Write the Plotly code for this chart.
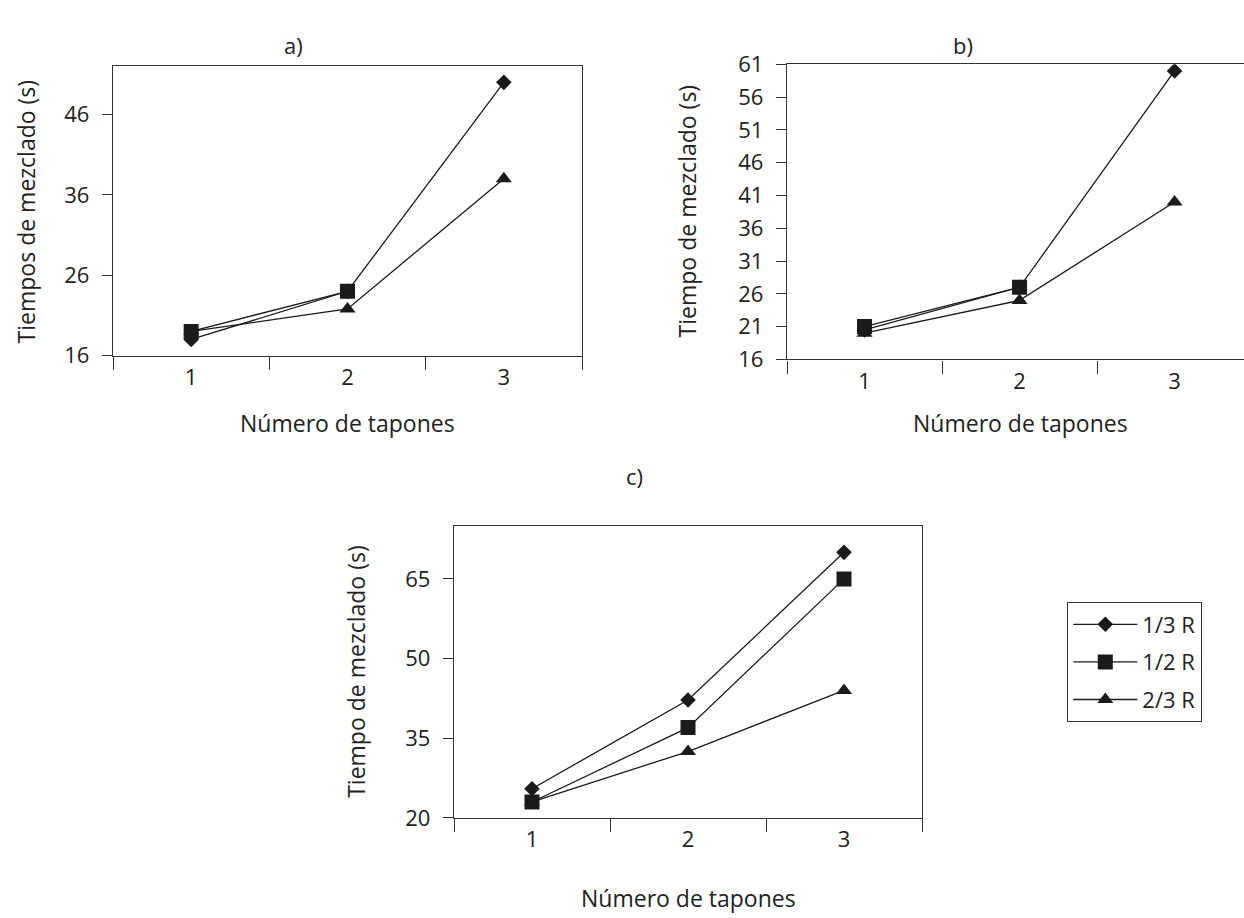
import plotly.graph_objects as go

# ---- data ----
categories = ["1", "2", "3"]
series_names = ["1/3 R", "1/2 R", "2/3 R"]

a_13 = [18, 24, 50]
a_12 = [19, 24, None]
a_23 = [19, 21.8, 38]

b_13 = [20.5, 27, 60]
b_12 = [21, 27, None]
b_23 = [20, 25, 40]

c_13 = [25.5, 42.2, 70]
c_12 = [23, 37, 65]
c_23 = [23, 32.5, 44]

a_yticks = [16, 26, 36, 46]
b_yticks = [16, 21, 26, 31, 36, 41, 46, 51, 56, 61]
c_yticks = [20, 35, 50, 65]

panel_titles = ["a)", "b)", "c)"]
x_title = "Número de tapones"
y_title_a = "Tiempos de mezclado (s)"
y_title_bc = "Tiempo de mezclado (s)"

W, H = 1244, 918
FONT = "Open Sans"
BLACK = "#1a1a1a"
TXT = "#222222"

def px_x(p):
    return p / W

def px_y(p):
    return 1 - p / H

symbols = {"1/3 R": ("diamond", 12), "1/2 R": ("square", 15), "2/3 R": ("triangle-up", 14)}
ranks = {"1/3 R": 1, "1/2 R": 2, "2/3 R": 3}

fig = go.Figure()

panels = [
    ("x", "y", {"1/3 R": a_13, "1/2 R": a_12, "2/3 R": a_23}, False),
    ("x2", "y2", {"1/3 R": b_13, "1/2 R": b_12, "2/3 R": b_23}, False),
    ("x3", "y3", {"1/3 R": c_13, "1/2 R": c_12, "2/3 R": c_23}, True),
]
draw_order = ["1/3 R", "2/3 R", "1/2 R"]
for xa, ya, data, show in panels:
    for name in draw_order:
        sym, size = symbols[name]
        fig.add_trace(go.Scatter(
            x=categories, y=data[name], name=name, xaxis=xa, yaxis=ya,
            mode="lines+markers", showlegend=show, legendrank=ranks[name],
            legendgroup=name,
            line=dict(color=BLACK, width=1.3),
            marker=dict(symbol=sym, size=size, color=BLACK, line=dict(width=0)),
            connectgaps=False,
        ))

axis_common = dict(showline=True, linecolor="#333333", linewidth=1.3, showgrid=False,
                   zeroline=False, ticks="outside", tickcolor="#333333", tickwidth=1.3,
                   tickfont=dict(family=FONT, size=22, color=TXT))

def xaxis(domain, rng, anchor, mirror=True):
    d = dict(axis_common)
    d.update(domain=domain, range=rng, anchor=anchor, type="category",
             tickson="boundaries", ticklen=13, mirror=mirror, ticklabelstandoff=2)
    return d

def yaxis(domain, rng, tickvals, anchor, mirror=True):
    d = dict(axis_common)
    d.update(domain=domain, range=rng, anchor=anchor, tickvals=tickvals,
             ticklen=10, mirror=mirror, ticklabelstandoff=8)
    return d

fig.update_layout(
    width=W, height=H, margin=dict(l=0, r=0, t=0, b=0),
    paper_bgcolor="white", plot_bgcolor="white",
    font=dict(family=FONT, size=22, color=TXT),
    xaxis=xaxis([px_x(113), px_x(582)], [-0.5, 2.5], "y"),
    yaxis=yaxis([px_y(351), px_y(52)], [16, 52], a_yticks, "x"),
    xaxis2=xaxis([px_x(787), 1.0], [-0.5, 2.448], "y2"),
    yaxis2=yaxis([px_y(355), px_y(50)], [16, 61], b_yticks, "x2", mirror=False),
    xaxis3=xaxis([px_x(454), px_x(922)], [-0.5, 2.5], "y3"),
    yaxis3=yaxis([px_y(829), px_y(527)], [20, 75], c_yticks, "x3"),
    legend=dict(x=px_x(1067), y=px_y(606), xanchor="left", yanchor="top",
                bordercolor="#333333", borderwidth=1.3, bgcolor="white",
                font=dict(family=FONT, size=22, color=TXT),
                itemwidth=64, tracegroupgap=6, traceorder="grouped"),
)

ann = []
def text(x, y, t, angle=0, size=23, yanchor="middle"):
    ann.append(dict(x=px_x(x), y=px_y(y), xref="paper", yref="paper", text=t,
                    showarrow=False, textangle=angle, xanchor="center", yanchor=yanchor,
                    font=dict(family=FONT, size=size, color=TXT)))

text(293, 30, panel_titles[0], size=22)
text(963, 30, panel_titles[1], size=22)
text(634, 476, panel_titles[2], size=22)
text(26, 202, y_title_a, angle=-90)
text(687, 202, y_title_bc, angle=-90)
text(356, 678, y_title_bc, angle=-90)
text(347, 421, x_title)
text(1020, 421, x_title)
text(688, 893, x_title, yanchor="top")
fig.update_layout(annotations=ann)

fig.write_html("out.html")
